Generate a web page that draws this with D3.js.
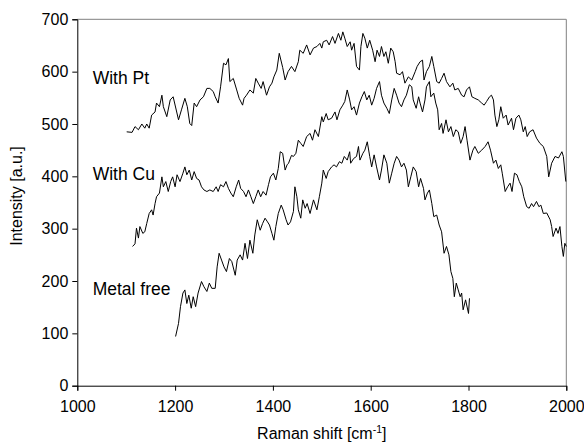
<!DOCTYPE html>
<html><head><meta charset="utf-8">
<script src="https://cdn.jsdelivr.net/npm/d3@7"></script>
<style>
html,body{margin:0;padding:0;background:#fff;}
svg text{font-family:"Liberation Sans",Arial,sans-serif;fill:#000;}
</style></head>
<body><svg id="c" width="584" height="443"></svg>
<script>
const seriesNames = ["With Pt", "With Cu", "Metal free"];
const xTicks = [1000, 1200, 1400, 1600, 1800, 2000];
const yTicks = [0, 100, 200, 300, 400, 500, 600, 700];

const ptX = [1101,1112,1118,1125,1132,1138,1142,1147,1152,1159,1162,1168,1173,1176,1183,1190,1196,1207,1213,1220,1225,1230,1234,1239,1244,1251,1258,1265,1271,1278,1282,1288,1293,1299,1304,1309,1312,1319,1326,1331,1338,1341,1346,1353,1360,1365,1370,1376,1380,1387,1393,1398,1402,1408,1413,1420,1425,1431,1438,1445,1452,1455,1462,1469,1476,1483,1490,1496,1500,1503,1510,1515,1522,1527,1534,1539,1543,1547,1552,1558,1561,1566,1571,1577,1580,1584,1588,1593,1598,1604,1609,1613,1618,1622,1627,1631,1636,1641,1646,1650,1653,1660,1665,1670,1677,1684,1691,1695,1701,1706,1709,1714,1720,1725,1729,1735,1740,1745,1750,1755,1762,1768,1772,1779,1786,1791,1796,1802,1807,1813,1820,1827,1832,1837,1843,1847,1851,1854,1858,1862,1866,1871,1877,1881,1888,1892,1897,1903,1907,1912,1916,1920,1925,1932,1939,1946,1953,1960,1964,1970,1977,1984,1991,1994,1999];
const ptY = [485,484,495,489,500,492,500,492,517,523,540,533,555,533,514,546,552,508,527,549,533,501,497,540,533,546,552,568,568,562,552,540,571,616,613,625,581,587,565,549,536,549,555,565,559,587,578,568,581,555,571,578,590,603,635,608,584,600,610,600,619,641,635,651,632,645,648,654,645,657,660,651,667,654,673,660,676,664,648,657,641,654,610,603,648,673,664,645,660,641,619,641,629,648,629,638,616,645,638,619,597,594,600,578,590,584,600,610,619,622,584,600,610,629,610,581,578,587,597,581,571,578,565,568,555,552,565,571,552,549,546,540,536,543,552,555,546,517,495,508,533,511,517,498,511,489,511,517,508,485,495,476,485,489,473,463,457,438,399,425,438,435,447,438,390];

const cuX = [1113,1118,1121,1125,1128,1134,1138,1142,1147,1152,1155,1159,1162,1168,1173,1176,1181,1186,1191,1195,1200,1204,1210,1216,1220,1224,1229,1234,1239,1244,1249,1254,1259,1265,1271,1278,1284,1288,1293,1299,1304,1309,1314,1319,1325,1330,1334,1340,1345,1350,1355,1360,1365,1370,1375,1380,1386,1391,1395,1401,1406,1411,1415,1420,1425,1429,1432,1438,1442,1447,1452,1457,1462,1469,1476,1481,1486,1493,1500,1503,1509,1513,1520,1527,1531,1537,1543,1547,1552,1557,1561,1566,1571,1577,1582,1587,1592,1597,1602,1607,1612,1618,1622,1627,1633,1638,1643,1648,1653,1658,1663,1668,1673,1679,1684,1687,1693,1698,1701,1706,1711,1714,1720,1723,1729,1733,1737,1740,1745,1748,1754,1759,1764,1769,1774,1779,1784,1789,1793,1797,1803,1809,1813,1820,1827,1834,1840,1845,1851,1856,1861,1866,1869,1875,1880,1885,1889,1894,1899,1904,1909,1913,1919,1924,1929,1933,1939,1944,1948,1953,1960,1967,1970,1973,1979,1983,1987,1991,1994,1997,2000];
const cuY = [266,271,301,282,304,291,294,310,329,336,326,348,361,368,399,380,390,371,390,399,380,403,390,406,418,403,412,393,409,396,393,380,374,371,374,371,380,371,384,380,390,377,368,361,380,393,377,371,361,374,361,348,361,374,361,371,364,384,399,406,393,415,447,444,412,422,425,440,438,444,469,463,457,476,482,469,489,476,514,504,520,508,511,523,508,527,536,543,565,546,527,533,517,540,552,562,546,555,536,549,568,581,555,540,530,520,546,568,555,540,533,546,555,575,571,546,530,552,540,523,546,571,581,552,559,540,527,489,501,482,508,485,495,476,489,485,463,476,495,469,431,450,457,444,450,457,466,450,425,431,415,422,406,371,380,387,371,406,403,390,380,361,342,339,348,342,352,342,345,329,330,317,304,285,301,291,304,266,247,272,266];

const mfX = [1201,1207,1211,1216,1220,1224,1228,1233,1237,1242,1247,1254,1259,1265,1270,1275,1282,1286,1290,1295,1300,1305,1311,1316,1323,1327,1333,1338,1343,1348,1353,1359,1363,1368,1374,1379,1384,1389,1393,1398,1402,1406,1411,1417,1421,1427,1431,1436,1442,1445,1449,1452,1457,1461,1466,1470,1476,1483,1490,1495,1500,1503,1509,1513,1520,1525,1530,1536,1541,1546,1552,1557,1559,1565,1571,1575,1578,1584,1588,1593,1598,1602,1607,1612,1618,1622,1627,1633,1638,1643,1648,1653,1658,1663,1668,1673,1677,1682,1687,1693,1698,1702,1708,1711,1716,1720,1725,1729,1735,1740,1745,1750,1755,1760,1764,1768,1771,1775,1779,1783,1786,1789,1794,1800,1802];
const mfY = [94,119,151,177,183,157,173,148,170,151,177,199,189,180,196,186,186,227,253,240,227,218,243,237,211,240,250,240,272,243,278,253,288,317,297,310,320,313,307,291,278,304,329,345,336,317,307,313,333,380,361,336,320,355,339,348,329,355,336,361,387,412,396,409,418,422,418,428,425,438,431,447,425,434,438,457,431,444,450,466,438,418,441,418,393,412,441,425,387,406,425,438,431,418,425,412,380,399,418,409,380,396,377,355,368,374,348,323,326,307,294,253,266,250,218,205,170,196,183,170,177,145,164,138,167];

const L = 77.3, R = 566.3, T = 19.3, B = 385.7;
const svg = d3.select("#c");
const x = d3.scaleLinear().domain([1000, 2000]).range([L, R]);
const y = d3.scaleLinear().domain([0, 700]).range([B, T]);

svg.append("path").attr("d", `M${L},${T}H${R}V${B}`).attr("fill","none").attr("stroke","#808080").attr("stroke-width",1);

const xAxis = svg.append("g").attr("transform", `translate(0,${B})`)
  .call(d3.axisBottom(x).tickValues(xTicks).tickSize(5).tickPadding(10).tickFormat(d3.format("d")));
const yAxis = svg.append("g").attr("transform", `translate(${L},0)`)
  .call(d3.axisLeft(y).tickValues(yTicks).tickSize(5).tickPadding(4).tickFormat(d3.format("d")));
[xAxis, yAxis].forEach(g => {
  g.select(".domain").attr("stroke", "#000").attr("stroke-width", 1);
  g.selectAll(".tick line").attr("stroke", "#000");
  g.selectAll("text").attr("font-size", 16).attr("font-family", "Liberation Sans, Arial, sans-serif").attr("fill","#000");
});

const line = d3.line().x(d => x(d[0])).y(d => y(d[1]));
[[ptX, ptY], [cuX, cuY], [mfX, mfY]].forEach(([xs, ys]) => {
  svg.append("path").datum(xs.map((v, i) => [v, ys[i]]))
    .attr("d", line).attr("fill", "none").attr("stroke", "#000").attr("stroke-width", 1);
});

const labelPos = [[92.7, 84], [92.7, 180], [92.7, 295]];
seriesNames.forEach((n, i) => {
  svg.append("text").attr("x", labelPos[i][0]).attr("y", labelPos[i][1]).attr("font-size", 17.5).text(n);
});

const xt = svg.append("text").attr("x", (L + R) / 2).attr("y", 439).attr("text-anchor", "middle").attr("font-size", 16);
xt.append("tspan").text("Raman shift [cm");
xt.append("tspan").attr("dy", -6).attr("font-size", 10.5).text("-1");
xt.append("tspan").attr("dy", 6).text("]");

svg.append("text").attr("transform", "translate(21.5,196) rotate(-90)").attr("text-anchor", "middle").attr("font-size", 16).text("Intensity [a.u.]");
</script></body></html>
